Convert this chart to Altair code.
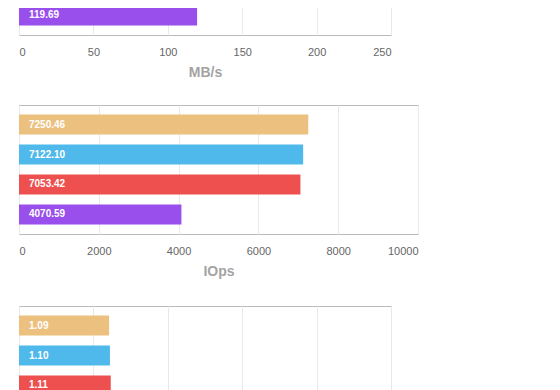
import altair as alt
import pandas as pd

# ---- data ----
series = ["run 1", "run 2", "run 3", "run 4"]
colors = ["#ECC17F", "#4EB9EA", "#EE4F4F", "#994FEC"]

mbps_values = [213.2, 209.4, 207.4, 119.69]
iops_values = [7250.46, 7122.10, 7053.42, 4070.59]
latency_values = [1.09, 1.10, 1.11, 1.96]

mbps_ticks = [0, 50, 100, 150, 200, 250]
iops_ticks = [0, 2000, 4000, 6000, 8000, 10000]
latency_ticks = [0, 0.9, 1.8, 2.7, 3.6, 4.5]

FONT = "Liberation Sans"


def panel(values, ticks, title, width, fmt):
    df = pd.DataFrame({"series": series, "value": values})
    base = alt.Chart(df).encode(
        y=alt.Y(
            "series:N",
            sort=series,
            axis=None,
            scale=alt.Scale(paddingInner=1 / 3, paddingOuter=0.317),
        )
    )
    bars = base.mark_bar().encode(
        x=alt.X(
            "value:Q",
            scale=alt.Scale(domain=[ticks[0], ticks[-1]], nice=False, zero=True),
            axis=alt.Axis(
                values=ticks,
                format=fmt,
                title=title,
                ticks=False,
                domain=False,
                grid=True,
                gridColor="#e9e9e9",
                labelPadding=11,
                labelFontSize=11,
                labelColor="#666666",
                labelFont=FONT,
                titleFont=FONT,
                titleFontSize=14,
                titleFontWeight="bold",
                titleColor="#a3a3a3",
                titlePadding=8,
            ),
        ),
        color=alt.Color(
            "series:N", scale=alt.Scale(domain=series, range=colors), legend=None
        ),
    )
    text = base.mark_text(
        align="left",
        baseline="middle",
        color="white",
        fontWeight="bold",
        fontSize=10,
        font=FONT,
    ).encode(x=alt.value(10), text=alt.Text("value:Q", format=".2f"))
    return (bars + text).properties(width=width, height=129)


top = panel(mbps_values, mbps_ticks, "MB/s", 372, "d")
mid = panel(iops_values, iops_ticks, "IOps", 399, "d")
bot = panel(latency_values, latency_ticks, "ms", 372, ".1f")

chart = (
    alt.vconcat(top, alt.vconcat(mid, bot, spacing=26), spacing=24)
    .properties(padding={"left": 10, "top": -103, "right": 5, "bottom": 5})
    .configure_view(stroke="#bbbbbb", strokeWidth=1)
)

chart.save("out.html", embed_options={"renderer": "svg", "actions": False})
